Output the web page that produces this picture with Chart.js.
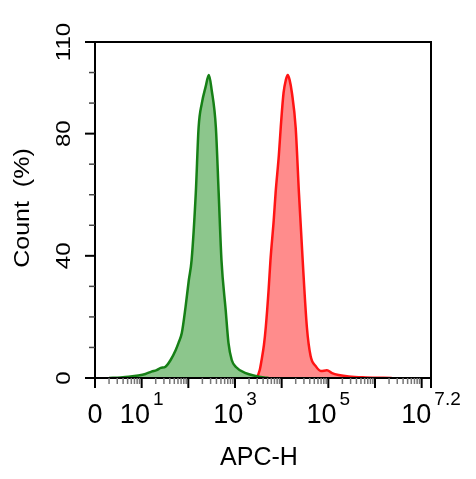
<!DOCTYPE html>
<html>
<head>
<meta charset="utf-8">
<script src="https://cdn.jsdelivr.net/npm/chart.js@4"></script>
<style>
  html, body { margin: 0; padding: 0; background: #fff; }
  canvas { display: block; }
</style>
</head>
<body>
<canvas id="histogram" width="476" height="479"></canvas>
<script>
// APC-H position in decades (log10) and count in %
const greenLog = [0.30, 0.55, 0.72, 0.93, 1.08, 1.21, 1.32, 1.41, 1.51, 1.62, 1.73, 1.79, 1.86, 1.94, 2.01, 2.07, 2.16, 2.22, 2.29, 2.37, 2.44, 2.50, 2.59, 2.65, 2.71, 2.80, 2.86, 2.93, 3.02, 3.23, 3.44, 3.62, 3.72];
const greenCount = [0, 0.2, 0.4, 0.8, 1.3, 2.1, 2.6, 3.3, 3.7, 5.9, 9.2, 11.5, 14.7, 23.2, 32, 38.6, 60.6, 82, 90, 95.3, 99.2, 94.3, 82, 60.6, 38.6, 22.3, 11.5, 5.9, 3.6, 1.6, 0.7, 0.2, 0];

const redLog = [3.40, 3.47, 3.53, 3.57, 3.62, 3.66, 3.72, 3.76, 3.83, 3.87, 3.94, 3.98, 4.04, 4.09, 4.13, 4.17, 4.22, 4.30, 4.37, 4.45, 4.54, 4.62, 4.73, 4.84, 4.97, 5.08, 5.22, 5.44, 5.80, 6.36];
const redCount = [0, 0.4, 2.6, 5.9, 10.8, 16.7, 28.8, 38.6, 51.7, 60.6, 73, 82, 93.3, 97.6, 99.2, 97.6, 93.3, 82, 60.6, 38.6, 16.7, 7.2, 3.9, 2.3, 2.5, 1.6, 1.0, 0.5, 0.2, 0];

// axis ticks
const xMaxDecade = 7.2;
const xMajorDecades = [0, 1, 2, 3, 4, 5, 6, 7, 7.2];
const xLabelDecades = [0, 1, 3, 5, 7.2];
const xLabelBase = ["0", "10", "10", "10", "10"];
const xLabelExp = ["", "1", "3", "5", "7.2"];
const yMajorTicks = [0, 40, 80, 110];
const yMinorTicks = [10, 20, 30, 50, 60, 70, 90, 100];
const xTitle = "APC-H";
const yTitle = "Count  (%)";

function toPoints(logs, counts) {
  return logs.map((d, i) => ({ x: Math.pow(10, d), y: counts[i] }));
}

const axisPlugin = {
  id: "facsAxes",
  afterDraw(chart) {
    const ctx = chart.ctx;
    const xs = chart.scales.x;
    const ys = chart.scales.y;
    const area = chart.chartArea;
    const bottom = ys.getPixelForValue(0);
    const top = ys.getPixelForValue(110);
    const left = xs.getPixelForValue(1);
    const right = xs.getPixelForValue(Math.pow(10, xMaxDecade));

    ctx.save();
    ctx.strokeStyle = "#000";
    ctx.lineWidth = 2;
    ctx.strokeRect(left, top, right - left, bottom - top);

    // x minor ticks (grey)
    ctx.strokeStyle = "#777";
    ctx.lineWidth = 1.5;
    for (let dec = 0; dec < 8; dec++) {
      for (let m = 2; m <= 9; m++) {
        const v = m * Math.pow(10, dec);
        if (Math.log10(v) > xMaxDecade) continue;
        const px = xs.getPixelForValue(v);
        ctx.beginPath();
        ctx.moveTo(px, bottom);
        ctx.lineTo(px, bottom + 6);
        ctx.stroke();
      }
    }
    // x major ticks
    ctx.strokeStyle = "#000";
    ctx.lineWidth = 2;
    xMajorDecades.forEach(d => {
      const px = xs.getPixelForValue(Math.pow(10, d));
      ctx.beginPath();
      ctx.moveTo(px, bottom);
      ctx.lineTo(px, bottom + 10);
      ctx.stroke();
    });
    // extend bottom line to the left
    ctx.beginPath();
    ctx.moveTo(left - 10, bottom);
    ctx.lineTo(left, bottom);
    ctx.stroke();

    // y ticks
    yMajorTicks.forEach(v => {
      const py = ys.getPixelForValue(v);
      ctx.beginPath();
      ctx.moveTo(left - 10, py);
      ctx.lineTo(left, py);
      ctx.stroke();
    });
    ctx.strokeStyle = "#444";
    ctx.lineWidth = 1.5;
    yMinorTicks.forEach(v => {
      const py = ys.getPixelForValue(v);
      ctx.beginPath();
      ctx.moveTo(left - 6, py);
      ctx.lineTo(left, py);
      ctx.stroke();
    });

    // x labels with superscripts
    ctx.fillStyle = "#000";
    ctx.textBaseline = "alphabetic";
    ctx.textAlign = "left";
    const baseFont = "27px 'Liberation Sans', Arial, sans-serif";
    const expFont = "19px 'Liberation Sans', Arial, sans-serif";
    xLabelDecades.forEach((d, i) => {
      const px = xs.getPixelForValue(Math.pow(10, d));
      ctx.font = baseFont;
      const wb = ctx.measureText(xLabelBase[i]).width;
      ctx.font = expFont;
      const we = xLabelExp[i] ? ctx.measureText(xLabelExp[i]).width + 3 : 0;
      const x0 = px - (wb + we) / 2;
      ctx.font = baseFont;
      ctx.fillText(xLabelBase[i], x0, 423);
      if (xLabelExp[i]) {
        ctx.font = expFont;
        ctx.fillText(xLabelExp[i], x0 + wb + 3, 405);
      }
    });

    // x title
    ctx.font = "25px 'Liberation Sans', Arial, sans-serif";
    ctx.textAlign = "center";
    ctx.fillText(xTitle, (area.left + area.right) / 2 - 4, 465);

    // y labels, rotated and slightly condensed
    yMajorTicks.forEach(v => {
      const py = ys.getPixelForValue(v);
      ctx.save();
      ctx.translate(70, py);
      ctx.rotate(-Math.PI / 2);
      ctx.scale(1, 0.87);
      ctx.font = "24px 'Liberation Sans', Arial, sans-serif";
      ctx.textAlign = "center";
      ctx.fillText(String(v), 0, 0);
      ctx.restore();
    });

    // y title
    ctx.save();
    ctx.translate(29, 208);
    ctx.rotate(-Math.PI / 2);
    ctx.scale(1, 0.85);
    ctx.font = "25px 'Liberation Sans', Arial, sans-serif";
    ctx.textAlign = "center";
    ctx.fillText(yTitle, 0, 0);
    ctx.restore();

    ctx.restore();
  }
};

new Chart(document.getElementById("histogram"), {
  type: "line",
  data: {
    datasets: [
      {
        label: "Control",
        data: toPoints(greenLog, greenCount),
        borderColor: "#168016",
        backgroundColor: "rgb(140, 198, 140)",
        borderWidth: 2.5,
        fill: "origin",
        cubicInterpolationMode: "monotone",
        pointRadius: 0
      },
      {
        label: "Stained",
        data: toPoints(redLog, redCount),
        borderColor: "#ff1414",
        backgroundColor: "rgb(255, 140, 140)",
        borderWidth: 2.5,
        fill: "origin",
        cubicInterpolationMode: "monotone",
        pointRadius: 0
      }
    ]
  },
  options: {
    responsive: false,
    animation: false,
    devicePixelRatio: 1,
    layout: { padding: { left: 95, top: 42, right: 45, bottom: 101 } },
    scales: {
      x: { type: "logarithmic", min: 1, max: Math.pow(10, xMaxDecade), display: false },
      y: { type: "linear", min: 0, max: 110, display: false }
    },
    plugins: {
      legend: { display: false },
      tooltip: { enabled: false }
    }
  },
  plugins: [axisPlugin]
});
</script>
</body>
</html>
